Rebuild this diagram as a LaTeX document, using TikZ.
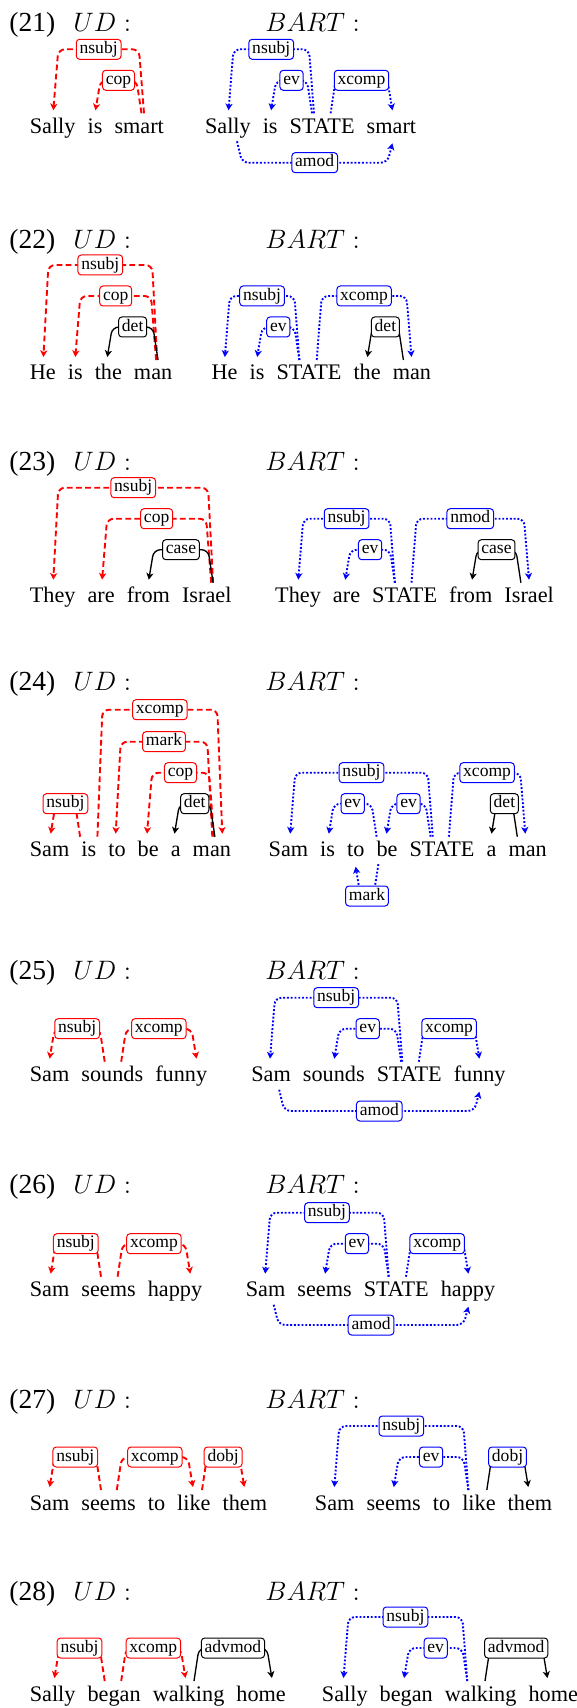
\documentclass[tikz,border=0pt]{standalone}
\usepackage{fontspec}
\setmainfont{Liberation Serif}
\usetikzlibrary{calc,arrows.meta}
\pgfdeclarelayer{bg}
\pgfsetlayers{bg,main}
\tikzset{
  word/.style={inner sep=0pt, anchor=base west, font=\fontsize{10}{12}\selectfont},
  ttl/.style={inner sep=0pt, anchor=base west, font=\fontsize{12.4}{14}\selectfont},
  lab/.style={fill=white, rounded corners=1.5pt, inner xsep=1.5pt, inner ysep=0pt, minimum height=9pt, text height=5.5pt, text depth=1.8pt, line width=0.45pt, font=\fontsize{7.9}{8}\selectfont},
  labr/.style={lab, draw=red},
  labb/.style={lab, draw=blue},
  labk/.style={lab, draw=black},
  arrowtip/.style={-{Stealth[length=3pt,width=3.2pt,inset=0.8pt]}},
  ud/.style={draw=red, line width=0.85pt, dash pattern=on 2.6pt off 1.5pt, rounded corners=3pt, arrowtip},
  bt/.style={draw=blue, line width=0.85pt, dash pattern=on 0.85pt off 0.85pt, rounded corners=3pt, arrowtip},
  bk/.style={draw=black, line width=0.6pt, rounded corners=3pt, arrowtip},
}
% #1 edge style, #2 label style, #3 name, #4 x head, #5 y head, #6 x dep, #7 y dep, #8 y level, #9 label
\newcommand\dep[9]{%
  \pgfmathsetmacro\depsl{ifthenelse(#6>#4,5,-5)}%
  \node[#2] (#3) at ({(#4+#6)/2},#8) {#9};%
  \coordinate (#3-h) at (#4,#5);%
  \coordinate (#3-d) at (#6,#7);%
  \coordinate (#3-hc) at ({#4+\depsl},#8);%
  \coordinate (#3-dc) at ({#6-\depsl},#8);%
  \begin{pgfonlayer}{bg}\draw[#1] (#3-h) -- (#3-hc) -- (#3.center) -- (#3-dc) -- (#3-d);\end{pgfonlayer}%
}
\newcommand\nw[3]{\node[word] (#1) at ($(#2.base east)+(11.2,0)$) {#3};}
\newcommand\ttlrow[3]{%
  \node[ttl] (n#1) at (9,#2) {(#1)};
  \node[ttl] (ud#1) at (73,#2) {$UD:$};
  \node[ttl] (bart#1) at (265,#2) {$BART:$};
}
\begin{document}
\begin{tikzpicture}[x=0.45pt,y=-0.45pt]
\useasboundingbox (0,0) rectangle (576,1708);

% ---------------- (21)
\ttlrow{21}{31.7}{}
\node[word] (u21a) at (29.4,133.3) {Sally};
\nw{u21b}{u21a}{is}
\nw{u21c}{u21b}{smart}
\node[word] (b21a) at (204.6,133.3) {Sally};
\nw{b21b}{b21a}{is}
\nw{b21c}{b21b}{STATE}
\nw{b21d}{b21c}{smart}
\dep{ud}{labr}{u21e1}{144}{113.3}{53.3}{110.3}{49.3}{nsubj}
\dep{ud}{labr}{u21e2}{141.5}{113.3}{95.5}{110.3}{80.3}{cop}
\dep{bt}{labb}{b21e1}{314}{113.3}{228.5}{110.3}{49.3}{nsubj}
\dep{bt}{labb}{b21e2}{312}{113.3}{271.1}{110.3}{80.3}{ev}
\dep{bt}{labb}{b21e3}{330.6}{113.3}{392.4}{110.3}{80.3}{xcomp}
\dep{bt}{labb}{b21e4}{237}{141.3}{392.4}{143.3}{162.7}{amod}

% ---------------- (22)
\ttlrow{22}{248.3}{}
\node[word] (u22a) at (29.4,380) {He};
\nw{u22b}{u22a}{is}
\nw{u22c}{u22b}{the}
\nw{u22d}{u22c}{man}
\node[word] (b22a) at (211.2,380) {He};
\nw{b22b}{b22a}{is}
\nw{b22c}{b22b}{STATE}
\nw{b22d}{b22c}{the}
\nw{b22e}{b22d}{man}
\dep{ud}{labr}{u22e1}{157.2}{360}{43.4}{357}{265}{nsubj}
\dep{ud}{labr}{u22e2}{156.1}{360}{75.3}{357}{296}{cop}
\dep{bk}{labk}{u22e3}{158}{360}{107.3}{357}{327}{det}
\dep{bt}{labb}{b22e1}{299.4}{360}{224.8}{357}{296}{nsubj}
\dep{bt}{labb}{b22e2}{299.4}{360}{257.2}{357}{327}{ev}
\dep{bt}{labb}{b22e3}{316.7}{360}{411.5}{357}{296}{xcomp}
\dep{bk}{labk}{b22e4}{403.4}{360}{367.4}{357}{327}{det}

% ---------------- (23)
\ttlrow{23}{470}{}
\node[word] (u23a) at (29.4,602.7) {They};
\nw{u23b}{u23a}{are}
\nw{u23c}{u23b}{from}
\nw{u23d}{u23c}{Israel}
\node[word] (b23a) at (274.8,602.7) {They};
\nw{b23b}{b23a}{are}
\nw{b23c}{b23b}{STATE}
\nw{b23d}{b23c}{from}
\nw{b23e}{b23d}{Israel}
\dep{ud}{labr}{u23e1}{213.1}{582.7}{53.3}{579.7}{487.7}{nsubj}
\dep{ud}{labr}{u23e2}{211.2}{582.7}{102.1}{579.7}{518.7}{cop}
\dep{bk}{labk}{u23e3}{213.1}{582.7}{148.8}{579.7}{549.7}{case}
\dep{bt}{labb}{b23e1}{394.9}{582.7}{298.3}{579.7}{518.7}{nsubj}
\dep{bt}{labb}{b23e2}{394.9}{582.7}{345.3}{579.7}{549.7}{ev}
\dep{bt}{labb}{b23e3}{411.5}{582.7}{529}{579.7}{518.7}{nmod}
\dep{bk}{labk}{b23e4}{520.9}{582.7}{472.1}{579.7}{549.7}{case}

% ---------------- (24)
\ttlrow{24}{690}{}
\node[word] (u24a) at (29.4,856.7) {Sam};
\nw{u24b}{u24a}{is}
\nw{u24c}{u24b}{to}
\nw{u24d}{u24c}{be}
\nw{u24e}{u24d}{a}
\nw{u24f}{u24e}{man}
\node[word] (b24a) at (268.2,856.7) {Sam};
\nw{b24b}{b24a}{is}
\nw{b24c}{b24b}{to}
\nw{b24d}{b24c}{be}
\nw{b24e}{b24d}{STATE}
\nw{b24f}{b24e}{a}
\nw{b24g}{b24f}{man}
\dep{ud}{labr}{u24e1}{80.1}{836.7}{50.7}{833.7}{803.7}{nsubj}
\dep{ud}{labr}{u24e2}{97.4}{836.7}{222.3}{833.7}{709.7}{xcomp}
\dep{ud}{labr}{u24e3}{212.3}{836.7}{115.7}{833.7}{741.7}{mark}
\dep{ud}{labr}{u24e4}{214}{836.7}{147}{833.7}{772.7}{cop}
\dep{bk}{labk}{u24e5}{214.9}{836.7}{174.5}{833.7}{803.7}{det}
\dep{bt}{labb}{b24e1}{432.8}{836.7}{290.2}{833.7}{772.7}{nsubj}
\dep{bt}{labb}{b24e2}{376.6}{836.7}{328.8}{833.7}{803.7}{ev}
\dep{bt}{labb}{b24e3}{430.6}{836.7}{386.5}{833.7}{803.7}{ev}
\dep{bt}{labb}{b24e4}{448.9}{836.7}{525.3}{833.7}{772.7}{xcomp}
\dep{bk}{labk}{b24e5}{517.3}{836.7}{491.5}{833.7}{803.7}{det}
\dep{bt}{labb}{b24e6}{378.4}{864.2}{355.6}{866.7}{896}{mark}

% ---------------- (25)
\ttlrow{25}{979.3}{}
\node[word] (u25a) at (29.4,1081.7) {Sam};
\nw{u25b}{u25a}{sounds}
\nw{u25c}{u25b}{funny}
\node[word] (b25a) at (250.9,1081.7) {Sam};
\nw{b25b}{b25a}{sounds}
\nw{b25c}{b25b}{STATE}
\nw{b25d}{b25c}{funny}
\dep{ud}{labr}{u25e1}{104.7}{1061.7}{49.6}{1058.7}{1028.7}{nsubj}
\dep{ud}{labr}{u25e2}{121.2}{1061.7}{196.5}{1058.7}{1028.7}{xcomp}
\dep{bt}{labb}{b25e1}{402.3}{1061.7}{270}{1058.7}{997.7}{nsubj}
\dep{bt}{labb}{b25e2}{401.2}{1061.7}{334.3}{1058.7}{1028.7}{ev}
\dep{bt}{labb}{b25e3}{418.8}{1061.7}{479.4}{1058.7}{1028.7}{xcomp}
\dep{bt}{labb}{b25e4}{279.2}{1089.7}{479.4}{1091.7}{1111}{amod}

% ---------------- (26)
\ttlrow{26}{1193.3}{}
\node[word] (u26a) at (29.4,1296.7) {Sam};
\nw{u26b}{u26a}{seems}
\nw{u26c}{u26b}{happy}
\node[word] (b26a) at (245.4,1296.7) {Sam};
\nw{b26b}{b26a}{seems}
\nw{b26c}{b26b}{STATE}
\nw{b26d}{b26c}{happy}
\dep{ud}{labr}{u26e1}{101}{1276.7}{50.7}{1273.7}{1243.7}{nsubj}
\dep{ud}{labr}{u26e2}{117.6}{1276.7}{190.3}{1273.7}{1243.7}{xcomp}
\dep{bt}{labb}{b26e1}{388.7}{1276.7}{265.2}{1273.7}{1212.7}{nsubj}
\dep{bt}{labb}{b26e2}{388.7}{1276.7}{325.1}{1273.7}{1243.7}{ev}
\dep{bt}{labb}{b26e3}{406}{1276.7}{468.4}{1273.7}{1243.7}{xcomp}
\dep{bt}{labb}{b26e4}{273.7}{1304.7}{468.4}{1306.7}{1325}{amod}

% ---------------- (27)
\ttlrow{27}{1408.3}{}
\node[word] (u27a) at (29.4,1510) {Sam};
\nw{u27b}{u27a}{seems}
\nw{u27c}{u27b}{to}
\nw{u27d}{u27c}{like}
\nw{u27e}{u27d}{them}
\node[word] (b27a) at (314.5,1510) {Sam};
\nw{b27b}{b27a}{seems}
\nw{b27c}{b27b}{to}
\nw{b27d}{b27c}{like}
\nw{b27e}{b27d}{them}
\dep{ud}{labr}{u27e1}{101}{1490}{49.6}{1487}{1457}{nsubj}
\dep{ud}{labr}{u27e2}{116.8}{1490}{192.9}{1487}{1457}{xcomp}
\dep{ud}{labr}{u27e3}{202}{1490}{244.3}{1487}{1457}{dobj}
\dep{bt}{labb}{b27e1}{468.4}{1490}{334.3}{1487}{1426}{nsubj}
\dep{bt}{labb}{b27e2}{468.4}{1490}{393.8}{1487}{1457}{ev}
\dep{bk}{labb}{b27e3}{486.8}{1490}{528.3}{1487}{1457}{dobj}

% ---------------- (28)
\ttlrow{28}{1600}{}
\node[word] (u28a) at (29.4,1701) {Sally};
\nw{u28b}{u28a}{began}
\nw{u28c}{u28b}{walking}
\nw{u28d}{u28c}{home}
\node[word] (b28a) at (321.5,1701) {Sally};
\nw{b28b}{b28a}{began}
\nw{b28c}{b28b}{walking}
\nw{b28d}{b28c}{home}
\dep{ud}{labr}{u28e1}{104.7}{1681}{54.4}{1678}{1648}{nsubj}
\dep{ud}{labr}{u28e2}{121.2}{1681}{185.5}{1678}{1648}{xcomp}
\dep{bk}{labk}{u28e3}{194}{1681}{271.9}{1678}{1648}{advmod}
\dep{bt}{labb}{b28e1}{467.3}{1681}{343.5}{1678}{1617}{nsubj}
\dep{bt}{labb}{b28e2}{467.3}{1681}{404.1}{1678}{1648}{ev}
\dep{bk}{labk}{b28e3}{485}{1681}{547.4}{1678}{1648}{advmod}
\end{tikzpicture}
\end{document}
